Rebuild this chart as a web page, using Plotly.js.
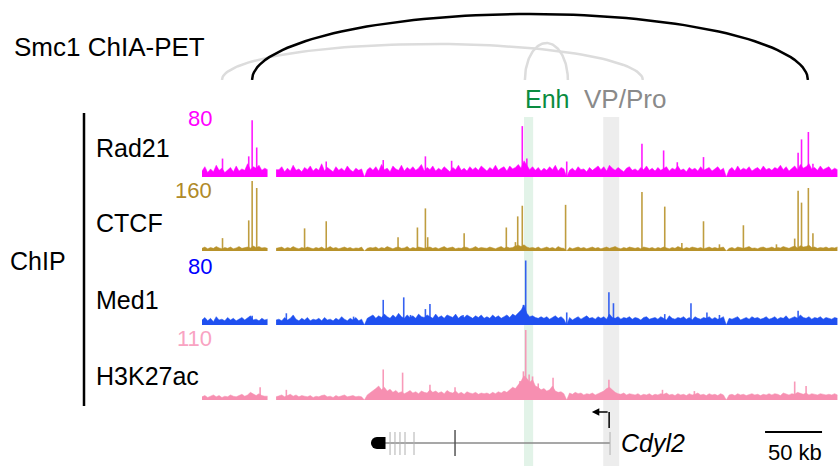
<!DOCTYPE html>
<html><head><meta charset="utf-8">
<script src="https://cdn.plot.ly/plotly-3.0.1.min.js"></script>
<style>html,body{margin:0;padding:0;background:#fff}#chart{width:838px;height:466px}</style>
</head><body><div id="chart"></div>
<script>
// ---------------- DATA (genomic coordinates in kb from left edge of window) ----------------
// null = no coverage (unmappable gap)
const windowKb = 558;
const binKb = 2.5; // background signal bins
const trackNames = ['Rad21', 'CTCF', 'Med1', 'H3K27ac'];
const trackMax = [80, 160, 80, 110];

const rad21Bg = [
 8,14,6,11,7,16,9,12,6,10,13,7,15,8,11,9,18,10,14,12,
 16,9,12,10,null,null,10,10,14,7,12,8,16,9,11,7,13,10,15,8,
 12,9,18,8,13,10,7,14,9,12,8,15,10,7,12,9,11,0,10,13,
 9,14,8,17,10,12,7,15,11,9,16,8,13,10,14,9,12,17,8,13,
 10,15,8,12,9,14,11,7,13,10,16,9,12,8,14,10,13,9,15,11,
 8,13,10,16,9,12,14,8,15,11,13,17,12,22,16,10,14,9,13,8,
 12,9,14,10,16,8,13,11,0,9,12,8,14,10,11,7,13,9,12,15,
 10,14,8,16,12,9,13,10,7,12,14,9,11,8,13,10,15,9,12,8,
 13,9,11,14,8,12,10,15,9,11,7,13,10,12,8,14,9,11,13,8,
 11,14,9,12,0,10,13,8,15,9,12,10,14,8,11,13,9,15,10,12,
 9,13,11,16,10,14,8,12,15,10,17,12,14,18,11,13,9,15,10,12,
 14,9,12,10];
const rad21PeakPos = [18,41,44,48,109,159,196,219,281,285,320,386,405,417,440,523,526,532,536];
const rad21PeakVal = [25,28,77,40,21,23,28,22,69,25,21,45,36,20,27,33,51,61,18];

const ctcfBg = [
 6,9,5,8,6,10,7,5,8,6,9,5,7,10,6,8,9,7,11,8,
 10,7,8,6,null,null,6,7,9,5,8,6,10,7,5,8,6,9,7,5,
 8,6,9,5,7,10,6,8,5,7,9,6,8,5,7,6,9,0,6,8,
 7,9,5,8,6,10,7,5,8,9,6,7,10,5,8,6,9,7,6,8,
 9,6,8,5,7,10,6,8,9,5,7,6,9,8,5,7,10,6,8,7,
 6,9,7,5,8,10,6,9,7,8,11,13,10,14,9,7,8,6,9,5,
 7,9,6,8,5,10,7,6,0,8,5,7,9,6,8,5,7,9,6,8,
 5,7,9,6,8,10,7,5,8,6,9,7,6,8,5,9,7,6,8,5,
 8,6,9,7,5,8,6,10,7,5,8,6,9,7,6,8,5,7,9,6,
 8,6,7,9,0,6,8,5,9,7,6,8,10,6,7,5,8,9,6,7,
 9,6,8,7,10,8,6,9,11,7,12,9,10,13,8,9,6,8,7,9,
 6,8,7,9];
const ctcfPeakPos = [18,41,44,48,90,109,172,189,196,198,230,267,275,277,281,319,386,406,421,440,454,475,504,520,523,526,532,536];
const ctcfPeakVal = [29,69,158,142,51,67,31,53,96,31,40,53,20,78,102,104,133,100,18,67,15,58,15,28,136,109,142,40];

const med1Bg = [
 6,9,5,8,4,10,6,7,5,9,6,8,5,7,9,6,8,11,6,7,
 5,8,6,7,null,null,6,7,5,9,6,8,12,7,5,8,6,9,5,7,
 6,8,5,9,6,7,5,8,6,10,7,5,8,6,9,5,7,0,8,10,
 12,8,11,9,13,10,8,12,9,14,10,8,12,9,11,8,13,10,9,12,
 10,8,13,9,11,8,12,10,9,13,8,11,9,12,10,8,11,9,12,8,
 10,8,12,9,11,8,10,12,9,13,11,15,18,24,14,10,11,9,8,10,
 8,10,7,9,11,8,10,7,0,9,6,8,10,7,9,11,8,9,7,10,
 8,10,7,13,9,8,10,7,9,8,10,7,9,8,6,9,10,7,8,9,
 7,10,8,6,11,8,7,9,8,10,7,9,6,10,8,7,9,8,10,7,
 9,7,8,10,0,8,7,9,10,6,8,9,7,10,8,9,7,8,10,7,
 8,10,7,9,8,11,7,9,10,8,12,9,8,10,7,9,8,10,7,9,
 8,7,9,8];
const med1PeakPos = [44,74,133,159,177,183,196,200,229,282,284,320,357,361,406,429,443,454,523];
const med1PeakVal = [11,14,10,30,33,12,19,25,12,24,77,15,39,26,13,26,15,12,17];

const h3k27acBg = [
 5,7,4,6,8,5,7,4,6,5,8,6,5,7,9,6,8,12,9,7,
 10,7,6,6,null,null,5,6,8,5,7,9,6,8,5,7,6,5,7,4,
 6,5,7,8,5,6,4,7,5,6,8,5,6,7,5,6,5,0,8,11,
 14,18,22,16,20,14,17,12,15,11,13,10,12,15,11,13,10,14,12,11,
 16,12,14,11,13,10,15,12,11,14,10,12,9,13,11,10,12,9,11,10,
 11,9,12,10,13,11,14,12,16,20,18,24,30,38,34,28,32,22,20,16,
 18,14,16,22,14,12,13,10,0,11,9,12,10,11,8,10,9,11,8,10,
 12,14,18,20,16,12,10,9,11,8,10,9,8,10,7,9,8,10,7,9,
 8,10,9,11,8,9,7,10,8,9,7,10,8,9,11,8,9,7,10,8,
 9,7,10,8,0,8,9,7,10,8,9,7,8,10,8,9,7,9,8,10,
 8,10,9,7,11,9,8,10,9,12,10,9,11,8,10,9,8,10,9,8,
 9,8,10,8];
const h3k27acPeakPos = [51,74,159,176,200,222,276,279,282,284,287,290,295,308,357,404,432,520,530];
const h3k27acPeakVal = [20,16,48,43,24,20,19,30,45,110,40,37,26,35,32,16,14,29,22];

// Smc1 ChIA-PET loops (anchors in kb) and relative strength (arc height)
const loopStart = [17.5, 283.3, 43.9];
const loopEnd = [386.8, 321, 531.6];
const loopHeight = [36, 37, 66];
const loopStrong = [false, false, true];

// highlighted regions
const regionNames = ['Enh', 'VP/Pro'];
const regionStart = [282.5, 352];
const regionEnd = [290.5, 366];

// Cdyl2 gene model (minus strand), kb
const geneName = 'Cdyl2';
const geneStart = 152.6;
const geneTss = 358;
const exonBlock = [153.5, 161];
const thinExons = [165, 169.3, 173.7, 178.1, 186];
const majorExon = 222;
const scaleBarKb = 50;
const scaleBarStart = 494;

// ---------------- DRAWING ----------------
const W = 838, H = 466;
const py = p => 1 - p / H;
const pxf = p => p / W;
const FONT = 'Liberation Sans, Arial, sans-serif';

const trackBg = [rad21Bg, ctcfBg, med1Bg, h3k27acBg];
const trackPk = [rad21PeakPos, ctcfPeakPos, med1PeakPos, h3k27acPeakPos];
const trackPv = [rad21PeakVal, ctcfPeakVal, med1PeakVal, h3k27acPeakVal];
const trackColor = ['#ff00ff', '#b8922a', '#1f50f0', '#f78fb1'];
const maxLabelColor = ['#ff00ff', '#b08a28', '#0000ff', '#f9a3c2'];
const trackPix = [[118,177],[180,251],[258,325],[330,400]];
const labelY = [148, 223, 300, 376];
const maxLabelY = [118, 191, 266, 338];
const axIds = ['y', 'y2', 'y3', 'y4'];

const traces = [];
for (let k = 0; k < 4; k++) {
  const bg = trackBg[k];
  // split into contiguous covered segments so gaps stay empty
  const segs = [];
  let cur = null;
  bg.forEach((v, i) => {
    if (v === null) { cur = null; return; }
    if (!cur) { cur = {x: [], y: []}; segs.push(cur); }
    cur.x.push(i * binKb); cur.y.push(v);
  });
  segs.forEach(s => traces.push({
    type: 'scatter', mode: 'lines', x: s.x, y: s.y,
    fill: 'tozeroy', fillcolor: trackColor[k], line: {color: trackColor[k], width: 0.5},
    xaxis: 'x', yaxis: axIds[k], hoverinfo: 'skip', showlegend: false
  }));
  traces.push({
    type: 'bar', x: trackPk[k], y: trackPv[k], width: 1.4,
    marker: {color: trackColor[k], opacity: 0.9, line: {width: 0}},
    xaxis: 'x', yaxis: axIds[k], hoverinfo: 'skip', showlegend: false
  });
}

// arcs
for (let a = 0; a < loopStart.length; a++) {
  const xs = [], ys = [];
  const n = 80;
  for (let t = 0; t <= n; t++) {
    const th = Math.PI * t / n;
    xs.push(loopStart[a] + (loopEnd[a] - loopStart[a]) * (1 - Math.cos(th)) / 2);
    ys.push(loopHeight[a] * Math.sin(th));
  }
  traces.push({type: 'scatter', mode: 'lines', x: xs, y: ys,
    line: {color: loopStrong[a] ? '#000000' : '#dcdcdc', width: 2.5},
    xaxis: 'x', yaxis: 'y5', hoverinfo: 'skip', showlegend: false, cliponaxis: false});
}

// gene model (y6: 0..61, pixel = 466 - v)
const gv = p => H - p;
traces.push({type: 'scatter', mode: 'lines', x: [geneStart, geneTss], y: [gv(443), gv(443)],
  line: {color: '#8a8a8a', width: 1.6}, xaxis: 'x', yaxis: 'y6', hoverinfo: 'skip', showlegend: false});
thinExons.forEach(e => traces.push({type: 'scatter', mode: 'lines', x: [e, e], y: [gv(455), gv(432)],
  line: {color: '#b0b0b0', width: 1}, xaxis: 'x', yaxis: 'y6', hoverinfo: 'skip', showlegend: false}));
traces.push({type: 'scatter', mode: 'lines', x: [majorExon, majorExon], y: [gv(456), gv(430)],
  line: {color: '#555555', width: 1.5}, xaxis: 'x', yaxis: 'y6', hoverinfo: 'skip', showlegend: false});
traces.push({type: 'scatter', mode: 'lines', x: [geneTss, geneTss], y: [gv(455), gv(432)],
  line: {color: '#b0b0b0', width: 1}, xaxis: 'x', yaxis: 'y6', hoverinfo: 'skip', showlegend: false});
traces.push({type: 'scatter', mode: 'lines', x: exonBlock, y: [gv(443), gv(443)],
  line: {color: '#000000', width: 12}, xaxis: 'x', yaxis: 'y6', hoverinfo: 'skip', showlegend: false});
traces.push({type: 'scatter', mode: 'markers', x: [exonBlock[0]], y: [gv(443)],
  marker: {color: '#000', size: 12, symbol: 'circle'}, xaxis: 'x', yaxis: 'y6', hoverinfo: 'skip', showlegend: false});
// TSS arrow stem
traces.push({type: 'scatter', mode: 'lines', x: [geneTss - 0.8, geneTss - 0.8], y: [gv(428), gv(412)],
  line: {color: '#000', width: 1.5}, xaxis: 'x', yaxis: 'y6', hoverinfo: 'skip', showlegend: false, cliponaxis: false});
// scale bar
traces.push({type: 'scatter', mode: 'lines', x: [scaleBarStart, scaleBarStart + scaleBarKb], y: [gv(432), gv(432)],
  line: {color: '#000', width: 2}, xaxis: 'x', yaxis: 'y6', hoverinfo: 'skip', showlegend: false, cliponaxis: false});

const shapes = [];
const regionFill = ['rgba(214,238,222,0.7)', 'rgba(225,225,225,0.6)'];
for (let r = 0; r < regionStart.length; r++) {
  shapes.push({type: 'rect', xref: 'x', yref: 'paper', x0: regionStart[r], x1: regionEnd[r],
    y0: 0, y1: py(117), fillcolor: regionFill[r], line: {width: 0}, layer: 'below'});
}
shapes.push({type: 'line', xref: 'paper', yref: 'paper', x0: pxf(84), x1: pxf(84), y0: py(113), y1: py(406),
  line: {color: '#000', width: 2.5}});

const annotations = [];
const A = (text, x, y, opts) => Object.assign({text, x: pxf(x), y: py(y), xref: 'paper', yref: 'paper',
  showarrow: false, xanchor: 'left', yanchor: 'middle', font: {family: FONT, size: 25, color: '#000'}}, opts || {});
annotations.push(A('Smc1 ChIA-PET', 12, 47, {font: {family: FONT, size: 26, color: '#000'}}));
annotations.push(A('ChIP', 8, 261));
for (let k = 0; k < 4; k++) {
  annotations.push(A(trackNames[k], 94, labelY[k]));
  annotations.push(A(String(trackMax[k]), 214, maxLabelY[k], {xanchor: 'right', font: {family: FONT, size: 22, color: maxLabelColor[k]}}));
}
annotations.push(A(regionNames[0], 546.5, 99, {xanchor: 'center', font: {family: FONT, size: 25, color: '#0a8c40'}}));
annotations.push(A(regionNames[1], 582, 99, {font: {family: FONT, size: 26, color: '#8a8a8a'}}));
annotations.push(A(geneName, 619, 443, {font: {family: FONT, size: 25, color: '#000', style: 'italic'}}));
annotations.push(A(scaleBarKb + ' kb', 795, 452, {xanchor: 'center', font: {family: FONT, size: 22, color: '#000'}}));
// TSS arrow head
annotations.push({x: geneTss - 16, y: gv(412), ax: geneTss - 0.8, ay: gv(412), xref: 'x', yref: 'y6', axref: 'x', ayref: 'y6',
  text: '', showarrow: true, arrowhead: 2, arrowsize: 1, arrowwidth: 1.5, arrowcolor: '#000'});

const hid = {visible: false, fixedrange: true};
const layout = {
  width: W, height: H, margin: {l: 0, r: 0, t: 0, b: 0},
  paper_bgcolor: '#ffffff', plot_bgcolor: 'rgba(0,0,0,0)', showlegend: false, barmode: 'overlay',
  xaxis: Object.assign({domain: [pxf(202), 1], range: [0, windowKb], anchor: 'y'}, hid),
  yaxis: Object.assign({domain: [py(trackPix[0][1]), py(trackPix[0][0])], range: [0, trackMax[0]], anchor: 'x'}, hid),
  yaxis2: Object.assign({domain: [py(trackPix[1][1]), py(trackPix[1][0])], range: [0, trackMax[1]], anchor: 'x'}, hid),
  yaxis3: Object.assign({domain: [py(trackPix[2][1]), py(trackPix[2][0])], range: [0, trackMax[2]], anchor: 'x'}, hid),
  yaxis4: Object.assign({domain: [py(trackPix[3][1]), py(trackPix[3][0])], range: [0, trackMax[3]], anchor: 'x'}, hid),
  yaxis5: Object.assign({domain: [py(80), py(10)], range: [0, 70], anchor: 'x'}, hid),
  yaxis6: Object.assign({domain: [0, py(405)], range: [0, 61], anchor: 'x'}, hid),
  shapes, annotations
};
Plotly.newPlot('chart', traces, layout, {staticPlot: true, displayModeBar: false});
</script></body></html>
